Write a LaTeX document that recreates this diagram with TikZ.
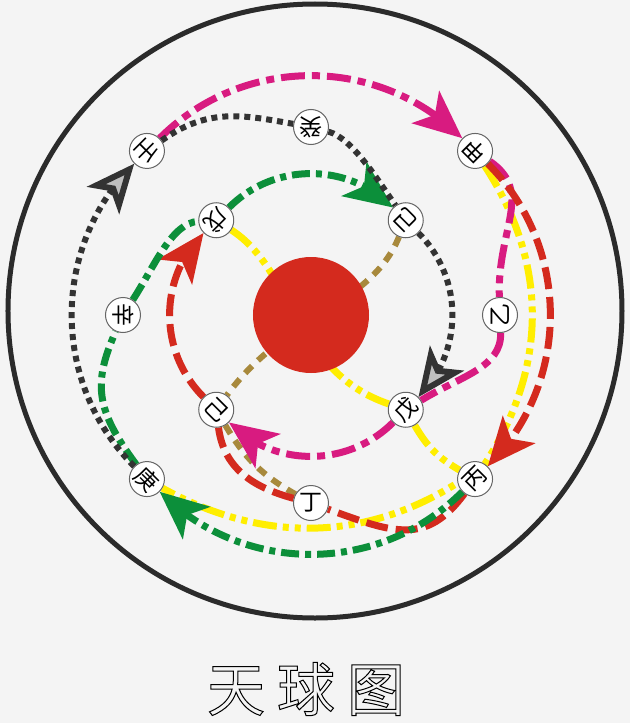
\documentclass[tikz,border=0pt]{standalone}
\usepackage{fontspec}
\newfontfamily\cjk{Noto Sans CJK SC}
\usetikzlibrary{arrows.meta,bending,backgrounds}
\definecolor{paper}{HTML}{F4F4F4}
\definecolor{ink}{HTML}{2B2B2B}
\definecolor{rim}{HTML}{666666}
\definecolor{rose}{HTML}{D81B80}
\definecolor{crimson}{HTML}{D42A1E}
\definecolor{leaf}{HTML}{0C8F3A}
\definecolor{lemon}{HTML}{FFEE00}
\definecolor{khaki}{HTML}{A8893C}
\newcommand\hollowtext[1]{\special{pdf:literal direct 1 Tr 0.5 w}#1\special{pdf:literal direct 0 Tr}}
\tikzset{
  stembox/.style={
    circle, draw=rim, fill=white, line width=0.5pt,
    minimum size=17.5pt, inner sep=0pt,
    font=\cjk\fontsize{11.5pt}{11.5pt}\selectfont
  },
  orbit/.style={line width=3.5pt},
  bighead/.style={-{Stealth[length=24pt, width=21pt, inset=6pt]}},
  hollowhead/.style={-{Stealth[length=24pt, width=21pt, inset=6pt, fill=black!25]}},
  roseline/.style={orbit, draw=rose, dash pattern=on 12pt off 3.5pt on 4pt off 3.5pt},
  redline/.style={orbit, draw=crimson, dash pattern=on 11pt off 4pt},
  leafline/.style={orbit, draw=leaf, dash pattern=on 9pt off 3pt on 3pt off 3pt},
  lemonline/.style={orbit, draw=lemon, dash pattern=on 12pt off 3pt on 3pt off 3pt on 3pt off 3pt},
  khakiline/.style={line width=3pt, draw=khaki, dash pattern=on 5pt off 4pt},
  dotline/.style={line width=3pt, draw=black!80, dash pattern=on 3pt off 2.5pt}
}
\begin{document}
\begin{tikzpicture}[x=0.5pt, y=0.5pt]
\useasboundingbox (-311,315) rectangle (319,-408);
\node[circle, fill=crimson, minimum size=58pt, inner sep=0pt] (sun) at (0,0) {};
\node[stembox, rotate=225] (ren) at (135:232) {壬};
\node[stembox, rotate=180] (gui) at (90:188) {癸};
\node[stembox, rotate=135] (jia) at (45:232) {甲};
\node[stembox, rotate=90] (yi) at (0:189) {乙};
\node[stembox, rotate=45] (bing) at (-45:232) {丙};
\node[stembox] (ding) at (-90:188) {丁};
\node[stembox, rotate=-45] (geng) at (-135:232) {庚};
\node[stembox, rotate=-90] (xin) at (180:188) {辛};
\node[stembox, rotate=225] (wuA) at (135:134) {戊};
\node[stembox, rotate=135] (jiA) at (45:134) {己};
\node[stembox, rotate=-45] (jiB) at (-135:134) {己};
\node[stembox, rotate=45] (wuB) at (-45:134) {戊};
\node[font=\cjk\fontsize{29pt}{29pt}\selectfont] (title) at (-5,-374)
  {\hollowtext{天\hspace{6pt}球\hspace{6pt}图}};
\begin{scope}[on background layer]
\fill[paper] (-311,315) rectangle (319,-408);
\draw[ink, line width=2.5pt] (4,4) circle[radius=307];
\draw[lemonline] (wuA) to[out=-25, in=155] (wuB) to[bend right=15] (bing);
\draw[lemonline] (jia) to[bend left=33] (bing) to[bend left=33] (geng);
\draw[khakiline] (jiA) to[out=-120, in=60] (jiB) to[bend right=15] (ding);
\draw[roseline, bighead] (ren) to[bend left=45] (jia);
\draw[roseline, bighead] (jia) to[out=-45, in=80, looseness=1.2] (yi) to[out=-108, in=20] (wuB) to[bend left=45] (jiB);
\draw[redline, bighead] (jia) to[bend left=45] (bing);
\draw[redline, bighead] (bing) to[out=-135, in=-20, looseness=1.2] (ding) to[out=165, in=-70] (jiB) to[bend left=45] (wuA);
\draw[leafline, bighead] (bing) to[bend left=45] (geng);
\draw[leafline, bighead] (geng) to[out=135, in=-100, looseness=1.2] (xin) to[out=75, in=-160] (wuA) to[bend left=45] (jiA);
\draw[dotline, hollowhead] (geng) to[bend left=45] (ren);
\draw[dotline, hollowhead] (ren) to[out=45, in=170, looseness=1.2] (gui) to[out=-15, in=110] (jiA) to[bend left=45] (wuB);
\end{scope}
\end{tikzpicture}
\end{document}
